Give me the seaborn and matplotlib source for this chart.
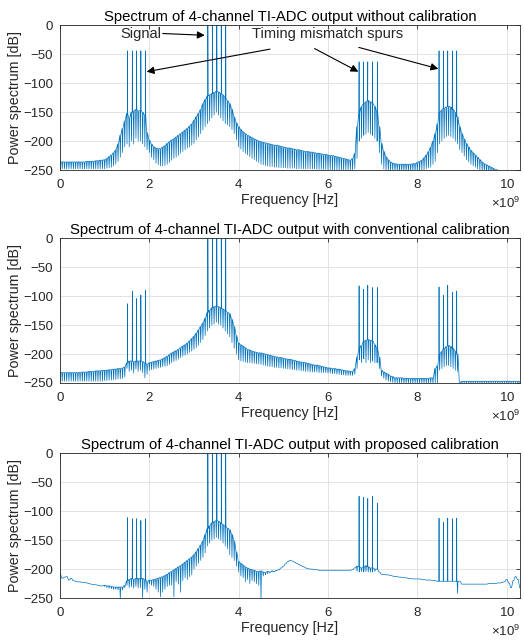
import numpy as np
import pandas as pd
import seaborn as sns
import matplotlib.pyplot as plt
from matplotlib.ticker import ScalarFormatter

# frequency grid of the read-off envelope (GHz), 0.05 GHz step
freq_ghz = np.round(np.arange(0, 10.32, 0.05), 2)

# tone frequencies (GHz)
signal_f = [3.31, 3.41, 3.51, 3.61, 3.71]
spur_a_f = [1.51, 1.62, 1.715, 1.81, 1.915]
spur_b_f = [6.696, 6.794, 6.89, 6.996, 7.108]
spur_c_f = [8.486, 8.584, 8.68, 8.785, 8.881]

# panel 1: without calibration (upper envelope / comb dips, dB)
p1_top = [-236, -236, -236, -236, -236, -236, -236, -236, -236, -236,
          -236, -236, -235, -235, -235, -235, -234, -234, -233, -233,
          -232, -230, -227, -224, -220, -215, -205, -190, -178, -165,
          -152, -160, -150, -148, -145, -148, -147, -150, -155, -185,
          -198, -205, -210, -212, -213, -213, -210, -208, -204, -201,
          -198, -196, -193, -190, -187, -184, -181, -178, -174, -170,
          -164, -158, -152, -145, -135, -128, -122, -120, -118, -116,
          -114, -115, -118, -120, -125, -130, -135, -145, -158, -168,
          -175, -180, -184, -187, -190, -192, -194, -196, -198, -200,
          -201, -202, -203, -204, -205, -206, -207, -207, -208, -209,
          -210, -211, -212, -212, -213, -214, -215, -215, -216, -217,
          -218, -218, -219, -219, -220, -221, -221, -222, -223, -223,
          -224, -225, -225, -226, -227, -228, -229, -230, -231, -232,
          -233, -230, -221, -175, -150, -140, -135, -132, -130, -132,
          -135, -140, -150, -175, -204, -218, -227, -232, -236, -238,
          -239, -240, -240, -240, -240, -240, -240, -240, -239, -239,
          -237, -235, -233, -229, -224, -218, -210, -200, -187, -170,
          -150, -146, -143, -141, -140, -141, -145, -150, -158, -175,
          -187, -196, -204, -210, -216, -220, -224, -228, -232, -236,
          -239, -241, -243, -245, -247, -249, -250, -252, -253, -255,
          -256, -257, -258, -259, -260, -261, -262]
p1_bot = [-248, -248, -248, -248, -248, -248, -248, -248, -248, -248,
          -248, -248, -248, -248, -248, -248, -248, -248, -248, -248,
          -248, -247, -246, -245, -243, -240, -235, -228, -220, -210,
          -205, -210, -200, -205, -195, -200, -200, -205, -210, -215,
          -220, -228, -232, -238, -241, -243, -243, -242, -240, -237,
          -233, -230, -228, -225, -221, -218, -215, -212, -210, -207,
          -204, -198, -193, -187, -181, -175, -170, -165, -160, -155,
          -150, -155, -160, -165, -170, -172, -175, -180, -187, -198,
          -210, -214, -218, -221, -224, -227, -230, -232, -235, -237,
          -240, -241, -242, -243, -244, -244, -245, -245, -246, -246,
          -246, -246, -247, -247, -247, -247, -248, -248, -248, -248,
          -248, -248, -248, -248, -248, -249, -249, -249, -249, -249,
          -250, -250, -250, -250, -250, -250, -250, -250, -250, -250,
          -250, -250, -248, -230, -200, -195, -190, -188, -185, -188,
          -190, -195, -200, -220, -240, -248, -250, -252, -252, -252,
          -252, -252, -252, -252, -252, -252, -252, -252, -252, -252,
          -252, -252, -250, -250, -248, -246, -245, -240, -235, -220,
          -205, -200, -195, -192, -190, -192, -195, -200, -205, -215,
          -220, -226, -232, -236, -240, -243, -245, -248, -250, -252,
          -255, -255, -255, -255, -255, -255, -255, -255, -255, -255,
          -255, -255, -255, -255, -255, -255, -255]
p1_signal = [0, 0, 0, 0, 0]
p1_spur_a = [-44, -44, -44, -44, -44]
p1_spur_b = [-63, -63, -63, -63, -63]
p1_spur_c = [-44, -44, -44, -44, -44]

# panel 2: conventional calibration
p2_top = [-232, -232, -232, -232, -232, -232, -232, -232, -232, -232,
          -231, -231, -231, -230, -230, -230, -229, -229, -229, -228,
          -228, -228, -227, -227, -226, -226, -225, -225, -224, -222,
          -215, -212, -212, -213, -212, -212, -212, -213, -215, -218,
          -215, -214, -213, -212, -211, -210, -208, -206, -204, -201,
          -198, -196, -194, -192, -189, -186, -184, -181, -177, -173,
          -169, -164, -158, -152, -146, -138, -128, -124, -120, -118,
          -117, -118, -120, -122, -125, -128, -130, -140, -152, -168,
          -181, -184, -186, -189, -192, -193, -195, -196, -197, -198,
          -198, -199, -200, -201, -202, -203, -204, -205, -206, -206,
          -207, -208, -209, -209, -210, -211, -212, -213, -214, -214,
          -215, -216, -217, -218, -219, -219, -220, -221, -222, -223,
          -224, -224, -225, -225, -226, -226, -227, -228, -229, -229,
          -230, -230, -225, -205, -190, -185, -178, -176, -175, -176,
          -178, -184, -190, -205, -228, -231, -233, -235, -238, -239,
          -241, -241, -241, -241, -242, -242, -242, -242, -242, -242,
          -242, -242, -242, -242, -242, -242, -241, -241, -225, -220,
          -200, -195, -190, -187, -185, -187, -190, -195, -200, -250,
          -247, -247, -247, -247, -247, -247, -247, -247, -247, -247,
          -247, -247, -247, -247, -247, -247, -247, -247, -247, -247,
          -247, -247, -247, -247, -247, -247, -247]
p2_bot = [-247, -247, -247, -247, -247, -247, -247, -247, -247, -247,
          -247, -247, -247, -247, -247, -247, -247, -247, -247, -247,
          -246, -246, -245, -245, -244, -244, -243, -243, -242, -240,
          -225, -230, -228, -233, -226, -230, -228, -232, -241, -235,
          -228, -227, -226, -225, -224, -223, -222, -221, -220, -218,
          -215, -213, -211, -209, -206, -204, -202, -200, -197, -195,
          -192, -189, -185, -180, -175, -168, -160, -155, -150, -148,
          -145, -148, -150, -155, -160, -165, -170, -180, -190, -200,
          -210, -212, -213, -214, -215, -215, -216, -216, -217, -217,
          -218, -219, -220, -221, -222, -222, -223, -223, -224, -224,
          -225, -225, -226, -226, -227, -227, -228, -228, -229, -229,
          -230, -230, -231, -231, -231, -231, -232, -232, -232, -232,
          -233, -233, -234, -234, -235, -235, -236, -236, -237, -237,
          -237, -237, -235, -225, -210, -215, -208, -215, -210, -215,
          -212, -215, -215, -225, -238, -242, -245, -247, -248, -249,
          -250, -250, -250, -250, -250, -250, -250, -250, -250, -250,
          -250, -250, -250, -250, -250, -250, -250, -250, -250, -250,
          -228, -225, -222, -220, -220, -222, -225, -228, -230, -252,
          -250, -250, -250, -250, -250, -250, -250, -250, -250, -250,
          -250, -250, -250, -250, -250, -250, -250, -250, -250, -250,
          -250, -250, -250, -250, -250, -250, -250]
p2_signal = [0, 0, 0, 0, 0]
p2_spur_a = [-113, -91, -104, -98, -90]
p2_spur_b = [-82, -88, -81, -85, -85]
p2_spur_c = [-84, -98, -81, -93, -91]

# panel 3: proposed calibration
p3_top = [-207, -216, -214, -213, -219, -216, -220, -221, -222, -222,
          -223, -223, -224, -225, -226, -227, -227, -228, -229, -229,
          -228, -229, -229, -230, -231, -231, -231, -231, -231, -228,
          -220, -218, -216, -218, -216, -216, -217, -216, -218, -222,
          -219, -219, -218, -217, -216, -214, -213, -211, -209, -206,
          -204, -201, -199, -196, -194, -191, -188, -185, -182, -179,
          -175, -170, -164, -158, -151, -140, -130, -125, -120, -118,
          -116, -117, -120, -123, -126, -129, -132, -140, -151, -170,
          -187, -190, -193, -196, -198, -200, -201, -202, -204, -204,
          -203, -205, -206, -204, -205, -203, -204, -202, -201, -198,
          -195, -191, -187, -185, -186, -188, -190, -192, -194, -196,
          -198, -199, -200, -200, -201, -201, -202, -202, -202, -202,
          -202, -202, -202, -202, -202, -202, -202, -202, -202, -202,
          -202, -201, -198, -195, -196, -198, -196, -194, -196, -198,
          -198, -200, -200, -205, -209, -209, -210, -210, -211, -212,
          -213, -213, -214, -214, -215, -215, -216, -216, -217, -217,
          -217, -217, -218, -218, -219, -219, -219, -220, -220, -221,
          -221, -221, -221, -221, -221, -221, -221, -221, -221, -221,
          -226, -226, -226, -226, -226, -226, -226, -226, -226, -226,
          -226, -226, -225, -225, -225, -225, -224, -224, -223, -222,
          -218, -224, -232, -220, -213, -218, -232]
p3_bot = [-207, -216, -214, -213, -219, -216, -220, -221, -222, -222,
          -223, -223, -224, -225, -226, -227, -227, -228, -229, -229,
          -230, -232, -233, -234, -235, -235, -236, -252, -236, -232,
          -228, -232, -230, -233, -230, -233, -232, -250, -235, -240,
          -226, -228, -230, -235, -240, -248, -240, -235, -230, -228,
          -228, -248, -222, -226, -240, -220, -215, -218, -213, -210,
          -200, -195, -190, -185, -180, -172, -160, -155, -150, -148,
          -145, -148, -150, -155, -160, -165, -175, -180, -185, -195,
          -205, -212, -215, -222, -218, -225, -220, -222, -225, -228,
          -255, -212, -210, -208, -207, -205, -205, -203, -201, -198,
          -195, -191, -187, -185, -186, -188, -190, -192, -194, -196,
          -198, -199, -200, -200, -201, -201, -202, -202, -202, -202,
          -202, -202, -202, -202, -202, -202, -202, -202, -202, -202,
          -202, -201, -198, -204, -205, -204, -205, -204, -205, -205,
          -205, -204, -200, -205, -209, -209, -210, -210, -211, -212,
          -213, -213, -214, -214, -215, -215, -216, -216, -217, -217,
          -217, -217, -218, -218, -219, -219, -219, -220, -220, -221,
          -221, -221, -221, -221, -221, -221, -221, -221, -242, -221,
          -226, -226, -226, -226, -226, -226, -226, -226, -226, -226,
          -226, -226, -225, -225, -225, -225, -224, -224, -223, -222,
          -218, -224, -232, -220, -213, -218, -232]
p3_signal = [0, 0, 0, 0, 0]
p3_spur_a = [-111, -113, -113, -116, -113]
p3_spur_b = [-74, -76, -78, -74, -86]
p3_spur_c = [-112, -119, -112, -113, -112]

titles = ['Spectrum of 4-channel TI-ADC output without calibration',
          'Spectrum of 4-channel TI-ADC output with conventional calibration',
          'Spectrum of 4-channel TI-ADC output with proposed calibration']


def spectrum_frame(top, bot, peaks):
    rows = []
    for f, t, b in zip(freq_ghz, top, bot):
        rows += [(f - 0.01, t), (f, b), (f + 0.01, t)]
    for freqs, levels in zip([spur_a_f, signal_f, spur_b_f, spur_c_f], peaks):
        for ft, pk in zip(freqs, levels):
            base = top[int(round(ft * 20))]
            rows += [(ft - 0.004, base), (ft, pk), (ft + 0.004, base)]
    df = pd.DataFrame(rows, columns=['freq', 'db']).sort_values('freq', kind='stable')
    df['freq'] = df['freq'] * 1e9
    return df


panels = [
    spectrum_frame(p1_top, p1_bot, [p1_spur_a, p1_signal, p1_spur_b, p1_spur_c]),
    spectrum_frame(p2_top, p2_bot, [p2_spur_a, p2_signal, p2_spur_b, p2_spur_c]),
    spectrum_frame(p3_top, p3_bot, [p3_spur_a, p3_signal, p3_spur_b, p3_spur_c]),
]

sns.set_theme(style='whitegrid')
plt.rcParams['font.family'] = ['Liberation Sans', 'DejaVu Sans']
plt.rcParams['mathtext.fontset'] = 'custom'
plt.rcParams['mathtext.rm'] = 'Liberation Sans'

fig = plt.figure(figsize=(5.24, 6.44), dpi=100)
boxes = [0.7360, 0.4053, 0.0714]

axes = []
for i, df in enumerate(panels):
    ax = fig.add_axes([0.1145, boxes[i], 0.878, 0.2245])
    sns.lineplot(data=df, x='freq', y='db', sort=False, estimator=None,
                 color='#0072BD', linewidth=0.5, ax=ax)
    ax.set_xlim(0, 10.3e9)
    ax.set_ylim(-250, 0)
    ax.set_xticks([0, 2e9, 4e9, 6e9, 8e9, 10e9])
    ax.set_yticks([-250, -200, -150, -100, -50, 0])
    fmt = ScalarFormatter(useMathText=True)
    fmt.set_powerlimits((9, 9))
    ax.xaxis.set_major_formatter(fmt)
    ax.set_facecolor('white')
    ax.grid(True, color='#dedede', linewidth=0.6)
    for s in ax.spines.values():
        s.set_color('#262626')
        s.set_linewidth(0.6)
    ax.tick_params(direction='in', length=3, width=0.6, top=True, right=True,
                   labelsize=9.5, colors='#262626', pad=5)
    ax.tick_params(axis='x', pad=6)
    ax.set_title(titles[i], fontsize=10.7, color='black', pad=3)
    ax.set_xlabel('Frequency [Hz]', fontsize=10.3, color='#262626', labelpad=1)
    ax.set_ylabel('Power spectrum [dB]', fontsize=10.3, color='#262626', labelpad=1)
    ax.xaxis.get_offset_text().set_fontsize(9.5)
    ax.xaxis.get_offset_text().set_color('#262626')
    axes.append(ax)

# annotations on the first panel
ax = axes[0]
arrow = dict(arrowstyle='-|>', color='black', lw=0.8, mutation_scale=11,
             shrinkA=0, shrinkB=0)
ax.text(2.27e9, -14, 'Signal', ha='right', va='center', fontsize=10.5)
ax.annotate('', xy=(3.24e9, -17), xytext=(2.30e9, -14), arrowprops=arrow)
ax.text(5.98e9, -14, 'Timing mismatch spurs', ha='center', va='center', fontsize=10.5)
ax.annotate('', xy=(1.94e9, -80), xytext=(4.70e9, -41), arrowprops=arrow)
ax.annotate('', xy=(6.68e9, -80), xytext=(5.70e9, -40), arrowprops=arrow)
ax.annotate('', xy=(8.47e9, -75), xytext=(6.69e9, -38), arrowprops=arrow)

fig.savefig('out.png', dpi=100)
